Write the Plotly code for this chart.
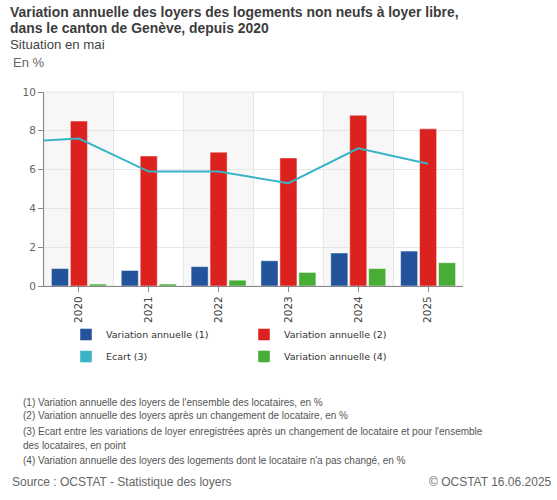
import plotly.graph_objects as go

annees = [2020, 2021, 2022, 2023, 2024, 2025]
var_ensemble = [0.9, 0.8, 1.0, 1.3, 1.7, 1.8]      # (1)
var_changement = [8.5, 6.7, 6.9, 6.6, 8.8, 8.1]    # (2)
var_sans_chgt = [0.1, 0.1, 0.3, 0.7, 0.9, 1.2]     # (4)
# ecart (3), la serie commence en 2019 (hors graphique)
annees_ecart = [2019, 2020, 2021, 2022, 2023, 2024, 2025]
ecart = [7.4, 7.6, 5.9, 5.9, 5.3, 7.1, 6.3]

noms = ['Variation annuelle (1)', 'Variation annuelle (2)', 'Ecart (3)', 'Variation annuelle (4)']
couleurs = ['#23539a', '#dc221f', '#38b4c6', '#47ad37']

notes = [
    "(1) Variation annuelle des loyers de l'ensemble des locataires, en %",
    "(2) Variation annuelle des loyers après un changement de locataire, en %",
    "(3) Ecart entre les variations de loyer enregistrées après un changement de locataire et pour l'ensemble",
    "des locataires, en point",
    "(4) Variation annuelle des loyers des logements dont le locataire n'a pas changé, en %",
]

# zone du graphique en pixels (557x500)
L, R, T, B = 44, 463, 92, 286
W, H = 557, 500
def px_x(x):
    return (x - L) / (R - L)
def px_y(y):
    return (B - y) / (B - T)

bord = dict(color='rgba(255,255,255,0.45)', width=1)

fig = go.Figure()
fig.add_trace(go.Bar(x=annees, y=var_ensemble, name=noms[0], marker_color=couleurs[0],
                     marker_line=bord, offsetgroup='1', legend='legend', legendgroup='a'))
fig.add_trace(go.Bar(x=annees, y=var_changement, name=noms[1], marker_color=couleurs[1],
                     marker_line=bord, offsetgroup='2', legend='legend2', legendgroup='b'))
fig.add_trace(go.Scatter(x=annees_ecart, y=ecart, mode='lines', name=noms[2],
                         line=dict(color=couleurs[2], width=2), showlegend=False))
# entree de legende carree pour l'ecart
fig.add_trace(go.Bar(x=[None], y=[None], name=noms[2], marker_color=couleurs[2],
                     marker_line=bord, offsetgroup='1', legend='legend', legendgroup='c'))
fig.add_trace(go.Bar(x=annees, y=var_sans_chgt, name=noms[3], marker_color=couleurs[3],
                     marker_line=bord, offsetgroup='4', legend='legend2', legendgroup='d'))

# bandes alternees
shapes = []
for i, a in enumerate(annees):
    if i % 2 == 0:
        shapes.append(dict(type='rect', xref='x', yref='paper', x0=a - 0.5, x1=a + 0.5,
                           y0=0, y1=1, fillcolor='#f7f7f7', line_width=0, layer='below'))
shapes.append(dict(type='rect', xref='paper', yref='paper', x0=0, x1=1, y0=0, y1=1,
                   line=dict(color='#e3e3e3', width=1), layer='below'))

annots = [
    dict(text='<b>Variation annuelle des loyers des logements non neufs à loyer libre,</b>',
         x=px_x(8), y=px_y(12), font=dict(size=13.9, color='#3c3c3c', family='Liberation Sans')),
    dict(text='<b>dans le canton de Genève, depuis 2020</b>',
         x=px_x(8), y=px_y(28), font=dict(size=13.9, color='#3c3c3c', family='Liberation Sans')),
    dict(text='Situation en mai', x=px_x(8), y=px_y(44),
         font=dict(size=13.2, color='#444', family='Liberation Sans')),
    dict(text='En %', x=px_x(11), y=px_y(62),
         font=dict(size=13, color='#666', family='Liberation Sans')),
    dict(text='Source : OCSTAT - Statistique des loyers', x=px_x(10), y=px_y(482),
         font=dict(size=12, color='#666', family='Liberation Sans')),
    dict(text='© OCSTAT 16.06.2025', x=px_x(554), y=px_y(482), xanchor='right',
         font=dict(size=12, color='#666', family='Liberation Sans')),
]
ys = [402, 416, 431, 445, 460]
for t, yy in zip(notes, ys):
    annots.append(dict(text=t, x=px_x(21), y=px_y(yy),
                       font=dict(size=10, color='#555', family='Liberation Sans')))
for a in annots:
    a.setdefault('xanchor', 'left')
    a.update(xref='paper', yref='paper', yanchor='middle', showarrow=False)

leg = dict(orientation='v', yanchor='top', xanchor='left', bgcolor='rgba(0,0,0,0)',
           font=dict(size=9.5, color='#333', family='DejaVu Sans'), tracegroupgap=3,
           itemclick=False)

fig.update_layout(
    width=W, height=H,
    margin=dict(l=L, r=W - R, t=T, b=H - B, pad=0),
    paper_bgcolor='white', plot_bgcolor='white',
    barmode='group', bargap=0.186, bargroupgap=0.1,
    xaxis=dict(range=[2019.5, 2025.5], tickvals=annees, ticktext=[str(a) for a in annees],
               tickangle=-90, ticks='outside', ticklen=5, tickcolor='#888',
               showline=True, linecolor='#888', linewidth=1, showgrid=False, zeroline=False,
               tickfont=dict(size=10.5, color='#444', family='DejaVu Sans'),
               minor=dict(tickvals=[a + 0.5 for a in [annees[0] - 1] + annees], showgrid=True,
                          gridcolor='#e6e6e6', ticks='')),
    yaxis=dict(range=[0, 10], dtick=2, ticks='outside', ticklen=5, tickcolor='#888',
               showline=True, linecolor='#888', linewidth=1, gridcolor='#e6e6e6', zeroline=False,
               tickfont=dict(size=10.5, color='#666', family='DejaVu Sans')),
    legend=dict(leg, x=px_x(66), y=px_y(320)),
    legend2=dict(leg, x=px_x(244), y=px_y(320)),
    shapes=shapes,
    annotations=annots,
    showlegend=True,
)

fig.write_html('out.html', config={'displayModeBar': False},
               post_script="document.body.style.margin='0';")
